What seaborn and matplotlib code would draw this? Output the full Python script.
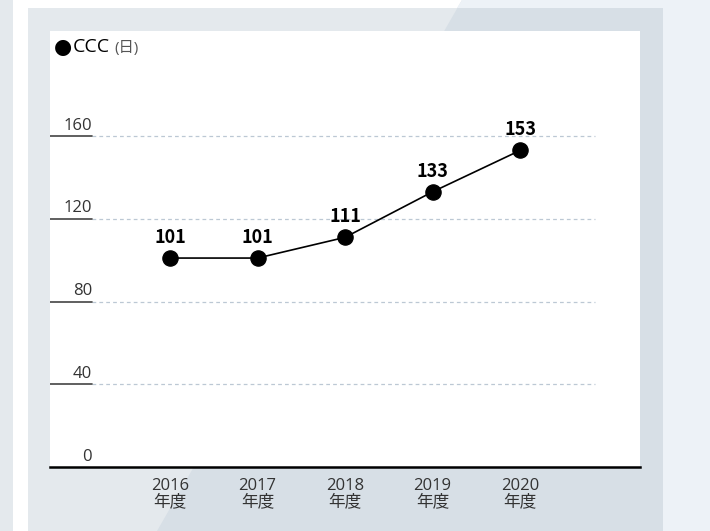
import numpy as np
import pandas as pd
import matplotlib
matplotlib.use("Agg")
import matplotlib.pyplot as plt
from matplotlib.patches import Rectangle, Polygon
import seaborn as sns

# データ
years = ["2016", "2017", "2018", "2019", "2020"]
ccc_days = [101, 101, 111, 133, 153]
y_ticks = [0, 40, 80, 120, 160]
title_mark = "●"
title_main = "CCC"
title_unit = "(日)"

sns.set_theme(style="white")
plt.rcParams["font.family"] = ["Open Sans", "Noto Sans CJK JP", "DejaVu Sans"]

W, H = 710, 531
fig = plt.figure(figsize=(W / 100, H / 100), dpi=100)
fig.patch.set_facecolor("white")


def px(x, y):
    # ピクセル(左上原点) -> figure座標
    return x / W, 1 - y / H


def rect(x0, y0, x1, y1, color, z=0):
    fx, fy = px(x0, y1)
    fig.add_artist(Rectangle((fx, fy), (x1 - x0) / W, (y1 - y0) / H,
                             transform=fig.transFigure, facecolor=color,
                             edgecolor="none", zorder=z))


#背景
light = "#e4e9ed"
dark = "#d7dfe6"
pale = "#edf2f7"
rect(0, 0, 13, H, light)
rect(28, 8, 663, H, light)
rect(663, 0, W, H, pale)
# 斜めの濃い部分
x_top, x_bot = 462, 157
fig.add_artist(Polygon([px(x_top, 0), px(663, 0), px(663, H), px(x_bot, H)],
                       closed=True, transform=fig.transFigure,
                       facecolor=dark, edgecolor="none", zorder=0.5))
slope = (x_top - x_bot) / H
fig.add_artist(Polygon([px(x_top, 0), px(W, 0), px(W, 8), px(x_top - slope * 8, 8)],
                       closed=True, transform=fig.transFigure,
                       facecolor=pale, edgecolor="none", zorder=0.6))

# プロット領域
ax_l, ax_r, ax_t, ax_b = 50, 640, 31, 467
ax = fig.add_axes([ax_l / W, (H - ax_b) / H, (ax_r - ax_l) / W, (ax_b - ax_t) / H])
ax.set_facecolor("white")
ax.set_zorder(2)

df = pd.DataFrame({"year": years, "days": ccc_days})
sns.pointplot(data=df, x="year", y="days", color="black", markers="o",
              markersize=11, linewidth=1.2, ax=ax, errorbar=None)

step = 87.5
ax.set_xlim((ax_l - 170) / step, (ax_r - 170) / step)
ymax = (ax_b - ax_t) / 82.75 * 40
ax.set_ylim(0, ymax)

# グリッド線と目盛り線
tick_end = 42 / (ax_r - ax_l)
grid_end = 545 / (ax_r - ax_l)
trans = ax.get_yaxis_transform()
for t in y_ticks[1:]:
    ax.plot([tick_end, grid_end], [t, t], transform=trans, color="#bcc8d4",
            lw=0.9, ls=(0, (3, 2.5)), zorder=1)
    ax.plot([0, tick_end], [t, t], transform=trans, color="#444444",
            lw=1.2, zorder=1)
for t in y_ticks:
    ax.text(tick_end, t + 1.2, str(t), transform=trans, ha="right",
            va="bottom", fontsize=12, color="#333333")

for s in ["top", "right", "left"]:
    ax.spines[s].set_visible(False)
ax.spines["bottom"].set_color("black")
ax.spines["bottom"].set_linewidth(1.8)
ax.spines["bottom"].set_zorder(3)
ax.spines["bottom"].set_clip_on(False)

ax.set_yticks([])
ax.set_xticks(range(len(years)))
ax.set_xticklabels([y + "\n年度" for y in years], fontsize=12, color="#333333",
                   linespacing=1.0)
ax.tick_params(axis="x", length=0, pad=8)
ax.set_xlabel("")
ax.set_ylabel("")

# 数値ラベル
for i, v in enumerate(ccc_days):
    ax.annotate(str(v), (i, v), xytext=(0, 8), textcoords="offset points",
                ha="center", va="bottom", fontsize=13, fontweight="bold",
                color="black", family=["Noto Sans CJK JP", "DejaVu Sans"])

# タイトル
fig.text(*px(54, 47), title_mark, fontsize=15, va="center", ha="left",
         color="black", zorder=5, family="DejaVu Sans")
fig.text(*px(73, 47), title_main, fontsize=14, va="center", ha="left",
         color="black", zorder=5)
fig.text(*px(114, 48), title_unit, fontsize=11, va="center", ha="left",
         color="#555555", zorder=5)

fig.savefig("out.png", dpi=100)
